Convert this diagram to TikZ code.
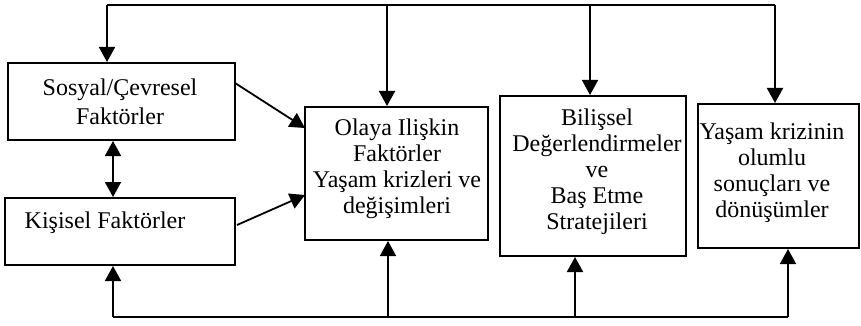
\documentclass[tikz,border=0pt]{standalone}
\usepackage{fontspec}
\setmainfont{Liberation Serif}
\usetikzlibrary{arrows.meta}

\tikzset{
  box/.style={draw, line width=1pt, inner sep=0pt},
  txt/.style={align=center, inner sep=0pt, font=\fontsize{12}{13}\selectfont},
  arr/.style={line width=0.9pt, -{Triangle[length=7.5pt,width=8pt]}},
  dbl/.style={line width=0.9pt, {Triangle[length=7.5pt,width=8pt]}-{Triangle[length=7.5pt,width=8pt]}},
  ln/.style={line width=0.9pt}
}

\begin{document}
\begin{tikzpicture}[x=0.5pt,y=-0.5pt]
  \useasboundingbox (0,0) rectangle (861,326);

  % boxes
  \node[box, minimum width=113.5pt, minimum height=38.5pt] (sosyal)   at (121.5,101.5) {};
  \node[box, minimum width=115pt,   minimum height=33.5pt] (kisisel)  at (120,231.5)   {};
  \node[box, minimum width=91.5pt,  minimum height=66.5pt] (olaya)    at (396.5,173.5) {};
  \node[box, minimum width=93pt,    minimum height=80pt]   (bilissel) at (593,176)     {};
  \node[box, minimum width=80.5pt,  minimum height=72pt]   (yasam)    at (778.5,176)   {};

  % texts
  \node[txt, font=\fontsize{12}{14.5}\selectfont] (sosyalT) at (120,102) {Sosyal/Çevresel\\Faktörler};
  \node[txt] (kisiselT)  at (105,223) {Kişisel Faktörler};
  \node[txt] (olayaT)    at (397,169) {Olaya Ilişkin\\Faktörler\\Yaşam krizleri ve\\değişimleri};
  \node[txt] (bilisselT) at (597,172) {Bilişsel\\Değerlendirmeler\\ve\\Baş Etme\\Stratejileri};
  \node[txt] (yasamT)    at (772,173) {Yaşam krizinin\\olumlu\\sonuçları ve\\dönüşümler};

  % top feedback line
  \coordinate (t1) at (107,5);
  \coordinate (t2) at (387,5);
  \coordinate (t3) at (590,5);
  \coordinate (t4) at (775,5);
  \draw[ln] (t1) -- (t4);
  \draw[arr] (t1) -- (sosyal.north -| t1);
  \draw[arr] (t2) -- (olaya.north -| t2);
  \draw[arr] (t3) -- (bilissel.north -| t3);
  \draw[arr] (t4) -- (yasam.north -| t4);

  % bottom feedback line
  \coordinate (b1) at (113,317);
  \coordinate (b2) at (388,317);
  \coordinate (b3) at (575,317);
  \coordinate (b4) at (788,317);
  \draw[ln] (b1) -- (b4);
  \draw[arr] (b1) -- (kisisel.south -| b1);
  \draw[arr] (b2) -- (olaya.south -| b2);
  \draw[arr] (b3) -- (bilissel.south -| b3);
  \draw[arr] (b4) -- (yasam.south -| b4);

  % links between boxes
  \coordinate (s1) at (113,140);
  \draw[dbl] (sosyal.south -| s1) -- (kisisel.north -| s1);
  \coordinate (d1) at (235,83);
  \coordinate (d2) at (305,128);
  \coordinate (d3) at (237,225);
  \coordinate (d4) at (305,195);
  \draw[arr] (d1) -- (d2);
  \draw[arr] (d3) -- (d4);
\end{tikzpicture}
\end{document}
